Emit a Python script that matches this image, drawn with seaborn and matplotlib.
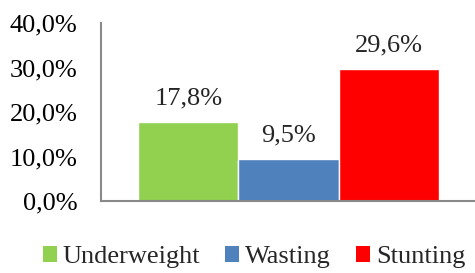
import matplotlib
matplotlib.use("Agg")
import matplotlib.pyplot as plt
import seaborn as sns
import pandas as pd
from matplotlib.patches import Patch
from matplotlib.ticker import FuncFormatter

categories = ["Underweight", "Wasting", "Stunting"]
values = [17.8, 9.5, 29.6]
colors = ["#92D050", "#4F81BD", "#FF0000"]
yticks = [0, 10, 20, 30, 40]

sns.set_style("white")
plt.rcParams['font.family'] = ['Liberation Serif', 'DejaVu Serif']

df = pd.DataFrame({"cat": categories, "val": values})

FS = 19

fig = plt.figure(figsize=(4.75, 2.73), dpi=100)
ax = fig.add_axes([0.2126, 0.2637, 0.79, 0.652])
sns.barplot(data=df, x="cat", y="val", hue="cat", palette=colors,
            width=1.0, legend=False, ax=ax, saturation=1)

ax.set_ylim(0, 40)
ax.set_xlim(-0.5 - 0.37, 2.5 + 0.37)
ax.set_yticks(yticks)
ax.yaxis.set_major_formatter(FuncFormatter(lambda v, p: f"{v:.1f}%".replace(".", ",")))
ax.set_xticks([])
ax.set_xlabel("")
ax.set_ylabel("")
ax.tick_params(axis="y", length=0, labelsize=FS, pad=17, colors="#000000")

for s in ["top", "right"]:
    ax.spines[s].set_visible(False)
for s in ["left", "bottom"]:
    ax.spines[s].set_color("#898989")
    ax.spines[s].set_linewidth(1.5)

for i, v in enumerate(values):
    ax.annotate(f"{v:.1f}%".replace(".", ","), (i, v), xytext=(0, 9),
                textcoords="offset points", ha="center", va="bottom", fontsize=FS)

handles = [Patch(facecolor=c, edgecolor="none") for c in colors]
fig.legend(handles, categories, loc="center", bbox_to_anchor=(0.535, 0.058),
           ncol=3, frameon=False, fontsize=FS, handlelength=0.53, handleheight=0.53,
           handletextpad=0.23, columnspacing=0.95, borderpad=0, borderaxespad=0)

fig.savefig("out.png", dpi=100)
